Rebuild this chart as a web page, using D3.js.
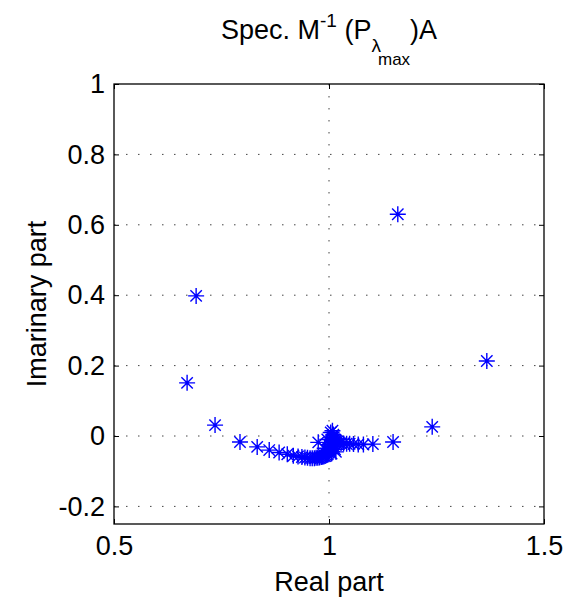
<!DOCTYPE html>
<html>
<head>
<meta charset="utf-8">
<script src="https://cdn.jsdelivr.net/npm/d3@7"></script>
<style>
  body { margin: 0; background: #fff; }
  svg { font-family: "Liberation Sans", Arial, sans-serif; }
</style>
</head>
<body>
<div id="chart"></div>
<script>
// eigenvalues, real and imaginary parts
let realPart = [
    0.670, 0.691, 0.735, 0.793, 0.833, 0.861, 0.884, 0.903, 0.917, 0.928,
    0.937, 0.944, 0.950, 0.956, 0.961, 0.966, 0.970, 0.974, 0.978, 0.982,
    0.985, 0.988, 0.991, 0.994, 0.997, 0.999, 1.001, 1.002, 1.003, 1.004,
    1.005, 1.006, 1.007, 1.008, 1.008, 1.009, 1.010, 1.011, 1.013, 1.016,
    1.019, 1.023, 1.028, 1.034, 1.041, 1.048, 1.057, 1.068, 1.080, 1.102,
    1.149, 1.240, 1.367, 1.160, 0.975, 0.990, 1.000, 1.012, 1.016, 0.996,
    1.004, 1.008, 1.014, 0.998, 1.006
];
let imagPart = [
    0.151, 0.398, 0.031, -0.017, -0.031, -0.040, -0.047, -0.052, -0.056, -0.058,
    -0.060, -0.061, -0.062, -0.063, -0.063, -0.063, -0.062, -0.062, -0.061, -0.060,
    -0.059, -0.058, -0.057, -0.055, -0.052, -0.048, -0.044, -0.040, -0.035, -0.030,
    -0.025, -0.020, -0.015, -0.010, -0.005, 0.000, 0.004, -0.004, -0.009, -0.013,
    -0.016, -0.018, -0.020, -0.021, -0.022, -0.022, -0.023, -0.024, -0.024, -0.023,
    -0.017, 0.026, 0.213, 0.630, -0.018, -0.035, -0.025, -0.030, -0.045, -0.010,
    0.010, 0.015, -0.038, -0.042, -0.050
];

let xTicks = [0.5, 1, 1.5];
let yTicks = [-0.2, 0, 0.2, 0.4, 0.6, 0.8, 1];

let margin = {top: 84, right: 23, bottom: 75, left: 114};
let width = 567 - margin.left - margin.right;
let height = 599 - margin.top - margin.bottom;

let svg = d3.select("#chart").append("svg")
    .attr("width", 567)
    .attr("height", 599);

let g = svg.append("g")
    .attr("transform", "translate(" + margin.left + "," + margin.top + ")");

let x = d3.scaleLinear().domain([0.5, 1.5]).range([0, width]);
let y = d3.scaleLinear().domain([-0.25, 1]).range([height, 0]);

// plain hyphen minus like the original
let fmt = d => String(d);

// dotted grid
g.selectAll(".xgrid")
    .data(xTicks.filter(d => d > 0.5 && d < 1.5))
    .enter().append("line")
    .attr("x1", d => x(d)).attr("x2", d => x(d))
    .attr("y1", 0).attr("y2", height)
    .attr("stroke", "#444").attr("stroke-width", 1)
    .attr("stroke-dasharray", "1.5,10.5");

g.selectAll(".ygrid")
    .data(yTicks.filter(d => d < 1))
    .enter().append("line")
    .attr("x1", 0).attr("x2", width)
    .attr("y1", d => y(d)).attr("y2", d => y(d))
    .attr("stroke", "#444").attr("stroke-width", 1)
    .attr("stroke-dasharray", "1.5,10.5");

// axes, ticks pointing inward
let tickLen = 5;
g.append("g")
    .attr("transform", "translate(0," + height + ")")
    .call(d3.axisBottom(x).tickValues(xTicks).tickSizeInner(-tickLen).tickSizeOuter(0).tickFormat(fmt))
    .call(a => a.select(".domain").remove())
    .call(a => a.selectAll("text").attr("font-size", 27).attr("fill", "#000").attr("y", 12).attr("dy", "0.71em"));
g.append("g")
    .call(d3.axisTop(x).tickValues(xTicks).tickSizeInner(-tickLen).tickSizeOuter(0).tickFormat(""))
    .call(a => a.select(".domain").remove());
g.append("g")
    .call(d3.axisLeft(y).tickValues(yTicks).tickSizeInner(-tickLen).tickSizeOuter(0).tickFormat(fmt))
    .call(a => a.select(".domain").remove())
    .call(a => a.selectAll("text").attr("font-size", 27).attr("fill", "#000").attr("x", -9));
g.append("g")
    .attr("transform", "translate(" + width + ",0)")
    .call(d3.axisRight(y).tickValues(yTicks).tickSizeInner(-tickLen).tickSizeOuter(0).tickFormat(""))
    .call(a => a.select(".domain").remove());

g.selectAll(".tick line").attr("stroke", "#000");

// box
g.append("rect")
    .attr("width", width).attr("height", height)
    .attr("fill", "none").attr("stroke", "#000").attr("stroke-width", 1.3);

// asterisk markers
let r = 8, rd = 5.7;
let starPath = "M" + (-r) + ",0L" + r + ",0M0," + (-r) + "L0," + r +
    "M" + (-rd) + "," + (-rd) + "L" + rd + "," + rd +
    "M" + (-rd) + "," + rd + "L" + rd + "," + (-rd);

g.selectAll(".star")
    .data(realPart.map((d, i) => [d, imagPart[i]]))
    .enter().append("path")
    .attr("d", starPath)
    .attr("transform", d => "translate(" + x(d[0]) + "," + y(d[1]) + ")")
    .attr("stroke", "#0000ff").attr("stroke-width", 1.4).attr("fill", "none");

// labels
svg.append("text")
    .attr("x", margin.left + width / 2).attr("y", 591)
    .attr("text-anchor", "middle").attr("font-size", 27)
    .text("Real part");

svg.append("text")
    .attr("transform", "translate(46," + (margin.top + height / 2) + ") rotate(-90)")
    .attr("text-anchor", "middle").attr("font-size", 27)
    .text("Imarinary part");

// title with super/subscripts
let title = svg.append("text")
    .attr("x", 221).attr("y", 39).attr("font-size", 27);
title.append("tspan").text("Spec. M");
title.append("tspan").attr("font-size", 19).attr("dy", -12).text("-1");
title.append("tspan").attr("dy", 12).text(" (P");
title.append("tspan").attr("font-size", 19).attr("dy", 13).text("λ");
title.append("tspan").attr("font-size", 17).attr("dy", 13).attr("dx", -3).text("max");
title.append("tspan").attr("dy", -26).text(")A");
</script>
</body>
</html>
